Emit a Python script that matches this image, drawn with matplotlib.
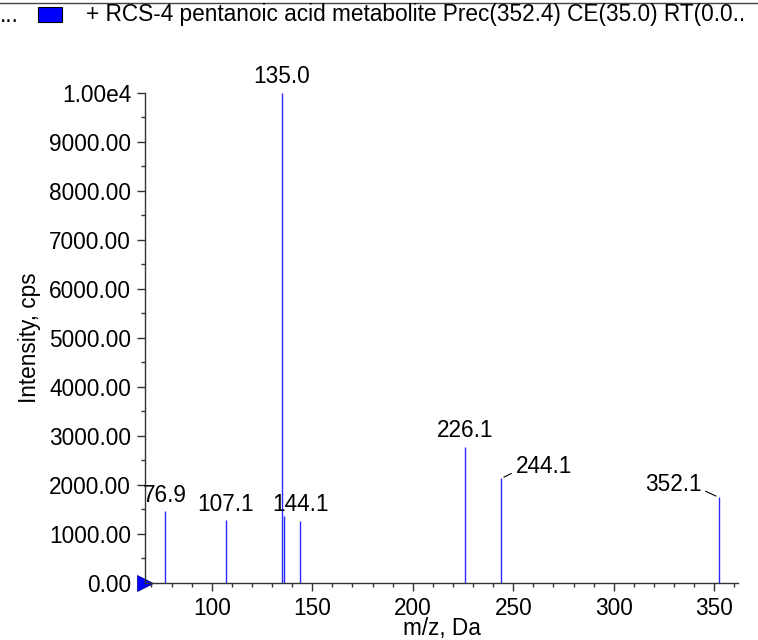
import numpy as np
import matplotlib
matplotlib.use("Agg")
import matplotlib.pyplot as plt
from matplotlib.patches import Rectangle
from matplotlib.ticker import MultipleLocator, FuncFormatter

plt.rcParams['font.family'] = ['Liberation Sans', 'DejaVu Sans']
FS = 16.3

# peaks
mz = [76.9, 107.1, 135.0, 135.9, 144.1, 226.1, 244.1, 352.1]
intensity = [1470, 1290, 10000, 1360, 1270, 2780, 2130, 1745]

# labelled peaks: (m/z, text, offset in pixels, ha, leader line?)
labels = [
    (76.9, "76.9", (0, 4), "center", False),
    (107.1, "107.1", (0, 4), "center", False),
    (135.0, "135.0", (0, 5), "center", False),
    (144.1, "144.1", (0, 5), "center", False),
    (226.1, "226.1", (0, 5), "center", False),
    (244.1, "244.1", (14, 5), "left", True),
    (352.1, "352.1", (-17, 6), "right", True),
]

title = "+ RCS-4 pentanoic acid metabolite Prec(352.4) CE(35.0) RT(0.0.."

fig = plt.figure(figsize=(7.58, 6.4), dpi=100)
ax = fig.add_axes([145/758, 1 - 582.7/640, (738 - 145)/758, (582.7 - 93)/640])

ax.vlines(mz, 0, intensity, colors="#2a2aff", linewidth=1.0)

lookup = dict(zip(mz, intensity))
for x, txt, off, ha, leader in labels:
    y = lookup[x]
    if leader:
        rel = (0, 0.3) if ha == "left" else (1, 0.3)
        ax.annotate(txt, (x, y), xytext=off, textcoords="offset pixels",
                    ha=ha, va="baseline", fontsize=FS,
                    arrowprops=dict(arrowstyle="-", color="black", lw=0.8,
                                    shrinkA=1, shrinkB=2, relpos=rel))
    else:
        ax.annotate(txt, (x, y), xytext=off, textcoords="offset pixels",
                    ha=ha, va="bottom", fontsize=FS)

ax.set_xlim(66.8, 361.8)
ax.set_ylim(0, 10000)

for s in ["top", "right"]:
    ax.spines[s].set_visible(False)
for s in ["left", "bottom"]:
    ax.spines[s].set_color("#333333")
    ax.spines[s].set_linewidth(1.0)

ax.xaxis.set_major_locator(MultipleLocator(50))
ax.xaxis.set_minor_locator(MultipleLocator(10))
ax.yaxis.set_major_locator(MultipleLocator(1000))
ax.yaxis.set_minor_locator(MultipleLocator(500))
ax.yaxis.set_major_formatter(FuncFormatter(lambda v, p: "1.00e4" if v >= 10000 else "%.2f" % v))
ax.tick_params(which="major", length=6, width=1, labelsize=FS, pad=4, color="#333333")
ax.tick_params(which="minor", length=3, width=1, color="#333333")

ax.set_xlabel("m/z, Da", fontsize=FS, labelpad=-2)
ax.set_ylabel("Intensity, cps", fontsize=FS, labelpad=6)

# blue marker at the origin
ax.plot([ax.get_xlim()[0]], [0], marker=">", color="#0000ff", markersize=11,
        clip_on=False, markeredgecolor="#000080", markeredgewidth=0.5)

# header strip
fig.add_artist(plt.Line2D([0, 1], [1 - 3/640, 1 - 3/640], color="#444444", lw=1))
fig.text(0, 1 - 15/640, "...", fontsize=FS, va="center", ha="left")
fig.add_artist(Rectangle((38/758, 1 - 22/640), 24/758, 15/640, transform=fig.transFigure,
                         facecolor="#0000ff", edgecolor="black", lw=0.8))
fig.text(86/758, 1 - 15/640, title, fontsize=FS, va="center", ha="left")

fig.savefig("out.png", dpi=100)
